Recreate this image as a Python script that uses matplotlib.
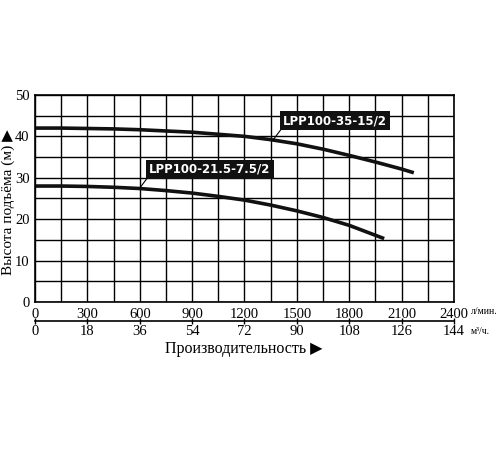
import matplotlib
matplotlib.use("Agg")
import matplotlib.pyplot as plt

# Data
flow_lmin_upper = [0, 150, 300, 450, 600, 750, 900, 1050, 1200, 1350, 1500, 1650, 1800, 1950, 2100, 2170]
head_upper = [42.0, 42.0, 41.9, 41.8, 41.6, 41.3, 41.0, 40.5, 40.0, 39.2, 38.2, 36.9, 35.4, 33.8, 32.1, 31.2]
flow_lmin_lower = [0, 150, 300, 450, 600, 750, 900, 1050, 1200, 1350, 1500, 1650, 1800, 1950, 2000]
head_lower = [28.0, 28.0, 27.9, 27.7, 27.4, 26.9, 26.3, 25.5, 24.6, 23.4, 22.0, 20.4, 18.5, 16.1, 15.3]
label_upper = "LPP100-35-15/2"
label_lower = "LPP100-21.5-7.5/2"
xticks_lmin = [0, 300, 600, 900, 1200, 1500, 1800, 2100, 2400]
xticks_m3h = [0, 18, 36, 54, 72, 90, 108, 126, 144]
yticks = [0, 10, 20, 30, 40, 50]

serif = ['Liberation Serif', 'DejaVu Sans']

fig = plt.figure(figsize=(5, 4.5), dpi=100)
ax = fig.add_axes([0.07, 0.329, 0.838, 0.46])

ax.set_xlim(0, 2400)
ax.set_ylim(0, 50)
ax.set_xticks(range(0, 2401, 150))
ax.set_yticks(range(0, 51, 5))
ax.grid(True, color='black', linewidth=1.0)
ax.set_axisbelow(True)
for s in ax.spines.values():
    s.set_linewidth(1.2)
ax.tick_params(length=0, pad=4)

ax.set_xticklabels([str(v) if v in xticks_lmin else '' for v in range(0, 2401, 150)],
                   family=serif, fontsize=10.5)
ax.set_yticklabels([str(v) if v in yticks else '' for v in range(0, 51, 5)],
                   family=serif, fontsize=10.5)

ax.plot(flow_lmin_upper, head_upper, color='#111111', linewidth=2.6, solid_capstyle='butt')
ax.plot(flow_lmin_lower, head_lower, color='#111111', linewidth=2.6, solid_capstyle='butt')

# labels with pointers
ax.plot([1415, 1363], [42.0, 39.1], color='black', linewidth=0.8)
ax.text(1420, 43.8, label_upper, color='white', fontweight='bold', fontsize=8.5,
        va='center', ha='left', family='DejaVu Sans',
        bbox=dict(boxstyle='square,pad=0.25', facecolor='#111111', edgecolor='none'))
ax.plot([650, 598], [30.3, 27.4], color='black', linewidth=0.8)
ax.text(655, 32.1, label_lower, color='white', fontweight='bold', fontsize=8.5,
        va='center', ha='left', family='DejaVu Sans',
        bbox=dict(boxstyle='square,pad=0.25', facecolor='#111111', edgecolor='none'))

# secondary axis in m3/h
sec = ax.secondary_xaxis(-0.09, functions=(lambda x: x * 0.06, lambda x: x / 0.06))
sec.set_xticks(xticks_m3h)
sec.set_xticklabels([str(v) for v in xticks_m3h], family=serif, fontsize=10.5)
sec.tick_params(direction='inout', length=5, width=1, pad=1)
sec.spines['bottom'].set_linewidth(1.2)

# units
ax.text(1.04, -0.048, 'л/мин.', transform=ax.transAxes, family=serif, fontsize=7,
        ha='left', va='center')
ax.text(1.04, -0.145, 'м³/ч.', transform=ax.transAxes, family=serif, fontsize=7,
        ha='left', va='center')

fig.text(0.017, 0.55, 'Высота подъёма (м) ▶', family=serif, fontsize=11,
         rotation=90, ha='center', va='center')
fig.text(0.488, 0.224, 'Производительность ▶', family=serif, fontsize=11.5,
         ha='center', va='center')

fig.savefig('out.png', dpi=100, facecolor='white')
